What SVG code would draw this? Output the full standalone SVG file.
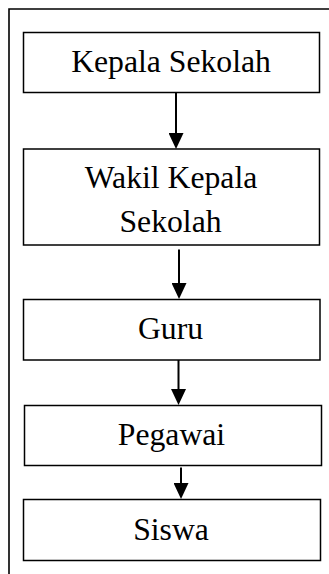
<svg xmlns="http://www.w3.org/2000/svg" width="329" height="574" viewBox="0 0 329 574">
<style>
.box{fill:#fff;stroke:#000;stroke-width:1.5}
.lbl{font-family:"Liberation Serif","Times New Roman",serif;font-size:31.7px;fill:#000;text-anchor:middle}
.frame{fill:none;stroke:#000;stroke-width:1.6}
.conn{stroke:#000;stroke-width:2;fill:none}
</style>
<defs>
<marker id="ah" viewBox="0 0 16 15" refX="6" refY="7.5" markerWidth="16" markerHeight="15" markerUnits="userSpaceOnUse" orient="auto">
<path d="M0,0 L16,7.5 L0,15 Z" fill="#000"/>
</marker>
</defs>
<rect width="329" height="574" fill="#fff"/>
<path class="frame" d="M9,574 L9,9 L329,9"/>
<g id="connectors">
<line class="conn" x1="176" y1="92.5" x2="176" y2="139" marker-end="url(#ah)"/>
<line class="conn" x1="179" y1="249.5" x2="179" y2="289" marker-end="url(#ah)"/>
<line class="conn" x1="178.5" y1="360" x2="178.5" y2="395" marker-end="url(#ah)"/>
<line class="conn" x1="181" y1="467.5" x2="181" y2="489" marker-end="url(#ah)"/>
</g>
<g id="kepala-sekolah">
<rect class="box" x="23.5" y="32.5" width="296" height="60"/>
<text class="lbl" x="171" y="72">Kepala Sekolah</text>
</g>
<g id="wakil-kepala-sekolah">
<rect class="box" x="23.5" y="149" width="296" height="96"/>
<text class="lbl" x="171" y="188">Wakil Kepala</text>
<text class="lbl" x="170.5" y="232">Sekolah</text>
</g>
<g id="guru">
<rect class="box" x="23.5" y="299.5" width="296.5" height="60.5"/>
<text class="lbl" x="170.5" y="339">Guru</text>
</g>
<g id="pegawai">
<rect class="box" x="24.5" y="405.5" width="297" height="60"/>
<text class="lbl" x="171.5" y="445">Pegawai</text>
</g>
<g id="siswa">
<rect class="box" x="23.5" y="499.5" width="297" height="61"/>
<text class="lbl" x="171" y="540">Siswa</text>
</g>
</svg>
